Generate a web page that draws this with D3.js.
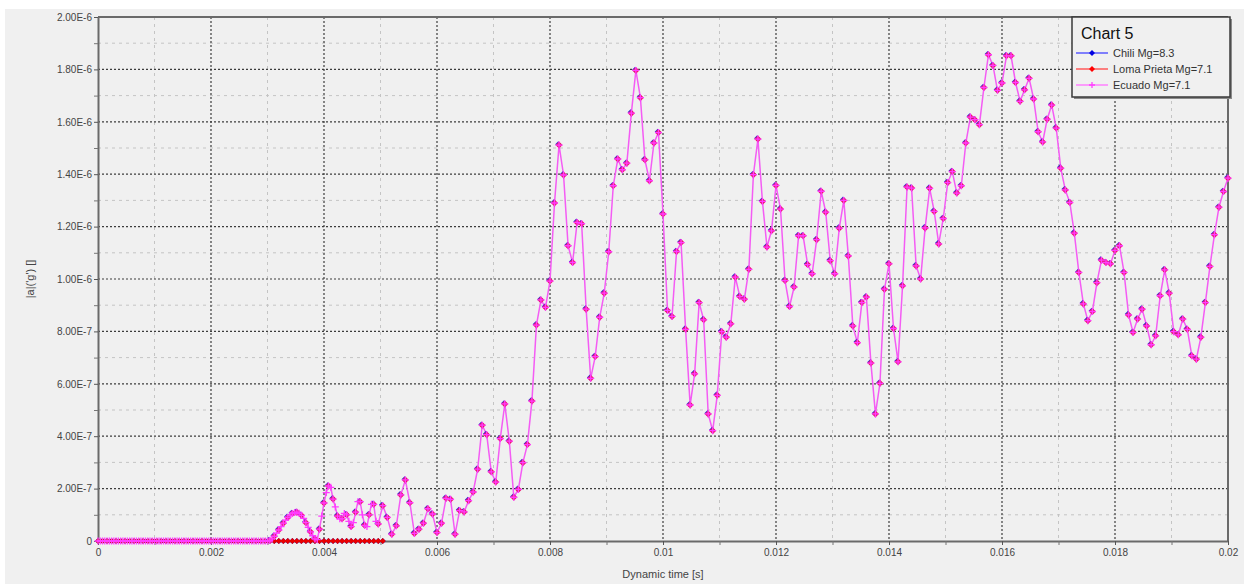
<!DOCTYPE html>
<html>
<head>
<meta charset="utf-8">
<script src="https://cdn.jsdelivr.net/npm/d3@7"></script>
<style>
  html, body { margin: 0; padding: 0; background: #ffffff; }
  svg { display: block; font-family: "Liberation Sans", Arial, sans-serif; }
</style>
</head>
<body>
<svg id="chart" width="1244" height="584"></svg>
<script>
// ---- Data -------------------------------------------------------------
// Amplitudes are given in units of 1e-7 g.
const seriesNames = ["Chili Mg=8.3", "Loma Prieta Mg=7.1", "Ecuado Mg=7.1"];

// Sampling: fine record up to 0.00496 s, coarse record from 0.00504 s on.
const fineStep = 0.00004;
const coarseStep = 0.00008;
const coarseFirstIndex = 63; // 63 * 0.00008 = 0.00504 s

// Chili and Loma Prieta: coarse samples 0 .. 0.00504 s
const chiliValues = [
  0,0,0,0,0,0,0,0,0,0,0,0,0,0,0,0,0,0,0,0,0,0,0,0,0,0,0,0,0,0,0,0,
  0,0,0,0,0,0,0,0,0,0,0,0,0,0,0,0,0,0,0,0,0,0,0,0,0,0,0,0,0,0,0,0
];
const lomaPrietaValues = [
  0,0,0,0,0,0,0,0,0,0,0,0,0,0,0,0,0,0,0,0,0,0,0,0,0,0,0,0,0,0,0,0,
  0,0,0,0,0,0,0,0,0,0,0,0,0,0,0,0,0,0,0,0,0,0,0,0,0,0,0,0,0,0,0,0
];

// Ecuado, fine part: 0 .. 0.00496 s
const ecuadoFineValues = [
  0,0,0,0,0,0,0,0,0,0,0,0,0,0,0,0,0,0,0,0,0,0,0,0,0,
  0,0,0,0,0,0,0,0,0,0,0,0,0,0,0,0,0,0,0,0,0,0,0,0,0,
  0,0,0,0,0,0,0,0,0,0,0,0,0,0,0,0,0,0,0,0,0,0,0,0,0,
  0,0.02,0.08,0.18,0.30,0.42,0.55,0.68,0.80,0.90,
  0.98,1.05,1.09,1.10,1.06,0.98,0.86,0.70,0.52,0.35,
  0.20,0.08,0.05,0.45,0.95,1.45,1.85,2.10,2.05,1.60,
  1.30,0.95,0.85,0.85,1.05,1.00,0.75,0.55,0.70,1.10,
  1.50,1.50,1.00,0.60,0.55,1.00,1.40,1.40,0.75,0.65
];

// Ecuado, coarse part: 0.00504 .. 0.02 s
const ecuadoCoarseValues = [
  1.35,0.90,0.26,0.58,1.76,2.33,1.46,0.29,0.45,0.68,1.23,1.03,0.32,0.68,
  1.63,1.59,0.26,1.16,1.11,1.54,1.87,2.74,4.42,4.06,2.64,2.25,3.91,5.23,
  3.81,1.67,1.97,2.99,3.68,5.34,8.24,9.20,8.92,9.92,12.90,15.11,13.97,11.27,
  10.63,12.16,12.11,8.85,6.21,7.04,8.54,9.46,11.04,13.56,14.58,14.17,14.42,16.33,
  17.96,16.92,14.55,13.75,15.19,15.59,12.48,8.80,8.57,11.05,11.39,8.08,5.19,6.38,
  9.10,8.44,4.85,4.21,5.56,7.99,7.78,8.29,10.07,9.33,9.23,10.37,
  13.98,15.34,12.96,11.22,11.84,13.57,12.67,9.94,8.95,9.69,11.65,11.65,10.55,10.20,
  11.50,13.35,12.55,10.70,10.20,11.94,13.00,10.88,8.21,7.57,9.10,9.31,6.79,4.85,
  6.02,9.61,10.58,8.11,6.84,9.74,13.51,13.47,10.50,10.00,11.95,13.46,
  12.58,11.34,12.31,13.68,14.10,13.28,13.56,15.19,16.18,16.08,15.89,17.31,18.56,18.15,
  17.20,17.48,18.52,18.52,17.50,16.78,17.22,17.66,16.87,15.62,15.23,16.10,16.64,15.76,
  14.23,13.40,12.92,11.75,10.25,9.05,8.41,8.76,9.86,10.72,10.63,
  10.58,11.09,11.27,10.25,8.63,7.96,8.47,8.85,8.21,7.49,7.83,9.36,10.35,9.46,
  7.99,7.87,8.47,8.08,7.07,6.94,7.78,9.10,10.48,11.69,12.74,13.34,13.85
];

// Axes
const xTicks = [0, 0.002, 0.004, 0.006, 0.008, 0.01, 0.012, 0.014, 0.016, 0.018, 0.02];
const xTickLabels = ["0", "0.002", "0.004", "0.006", "0.008", "0.01", "0.012", "0.014", "0.016", "0.018", "0.02"];
const xMinorTicks = [0.001, 0.003, 0.005, 0.007, 0.009, 0.011, 0.013, 0.015, 0.017, 0.019];
const yTicks = [0, 2e-7, 4e-7, 6e-7, 8e-7, 1e-6, 1.2e-6, 1.4e-6, 1.6e-6, 1.8e-6, 2e-6];
const yTickLabels = ["0", "2.00E-7", "4.00E-7", "6.00E-7", "8.00E-7", "1.00E-6", "1.20E-6", "1.40E-6", "1.60E-6", "1.80E-6", "2.00E-6"];
const yMinorTicks = [1e-7, 3e-7, 5e-7, 7e-7, 9e-7, 1.1e-6, 1.3e-6, 1.5e-6, 1.7e-6, 1.9e-6];
const chartTitle = "Chart 5";
const xTitle = "Dynamic time [s]";
const yTitle = "|a|('g') []";

// ---- Build series -------------------------------------------------------
const UNIT = 1e-7;
const chili = chiliValues.map((v, i) => ({ t: i * coarseStep, v: v * UNIT, coarse: true }));
const lomaPrieta = lomaPrietaValues.map((v, i) => ({ t: i * coarseStep, v: v * UNIT, coarse: true }));
const ecuado = ecuadoFineValues.map((v, i) => ({ t: i * fineStep, v: v * UNIT, coarse: i % 2 === 0 }))
  .concat(ecuadoCoarseValues.map((v, i) => ({ t: (coarseFirstIndex + i) * coarseStep, v: v * UNIT, coarse: true })));

// ---- Drawing ------------------------------------------------------------
const svg = d3.select("#chart");
const W = 1244, H = 584;
const plot = { left: 98, right: 1228, top: 17, bottom: 541 };

svg.append("rect").attr("x", 5).attr("y", 9).attr("width", W - 5).attr("height", H - 9).attr("fill", "#f0f0f0");

const x = d3.scaleLinear().domain([0, 0.02]).range([plot.left, plot.right]);
const y = d3.scaleLinear().domain([0, 2e-6]).range([plot.bottom, plot.top]);

// Grid
const grid = svg.append("g");
grid.selectAll("line.xminor").data(xMinorTicks).join("line")
  .attr("x1", d => x(d)).attr("x2", d => x(d)).attr("y1", plot.top).attr("y2", plot.bottom)
  .attr("stroke", "#c4c4c4").attr("stroke-width", 1).attr("stroke-dasharray", "3,4");
grid.selectAll("line.yminor").data(yMinorTicks).join("line")
  .attr("y1", d => y(d)).attr("y2", d => y(d)).attr("x1", plot.left).attr("x2", plot.right)
  .attr("stroke", "#c4c4c4").attr("stroke-width", 1).attr("stroke-dasharray", "3,4");
grid.selectAll("line.xmajor").data(xTicks.slice(1, -1)).join("line")
  .attr("x1", d => x(d)).attr("x2", d => x(d)).attr("y1", plot.top).attr("y2", plot.bottom)
  .attr("stroke", "#3c3c3c").attr("stroke-width", 1.2).attr("stroke-dasharray", "2,2");
grid.selectAll("line.ymajor").data(yTicks.slice(1, -1)).join("line")
  .attr("y1", d => y(d)).attr("y2", d => y(d)).attr("x1", plot.left).attr("x2", plot.right)
  .attr("stroke", "#3c3c3c").attr("stroke-width", 1.2).attr("stroke-dasharray", "2,2");

// Frame (top and right)
svg.append("line").attr("x1", plot.left).attr("x2", plot.right).attr("y1", plot.top).attr("y2", plot.top)
  .attr("stroke", "#6a6a6a").attr("stroke-width", 2);
svg.append("line").attr("x1", plot.right).attr("x2", plot.right).attr("y1", plot.top).attr("y2", plot.bottom)
  .attr("stroke", "#6a6a6a").attr("stroke-width", 2);

// Axes
function styleAxis(g) {
  g.select(".domain").attr("stroke", "#6a6a6a").attr("stroke-width", 2);
  g.selectAll(".tick line").attr("stroke", "#555");
  g.selectAll(".tick text").attr("fill", "#444").attr("font-size", "10px")
    .attr("font-family", "'Liberation Sans', Arial, sans-serif");
}
const gx = svg.append("g").attr("transform", `translate(0,${plot.bottom})`)
  .call(d3.axisBottom(x).tickValues(xTicks).tickFormat((d, i) => xTickLabels[i]).tickSize(4).tickPadding(4).tickSizeOuter(0));
styleAxis(gx);
svg.append("g").attr("transform", `translate(0,${plot.bottom})`)
  .call(d3.axisBottom(x).tickValues(xMinorTicks).tickFormat("").tickSize(4).tickSizeOuter(0))
  .call(g => { g.select(".domain").remove(); g.selectAll(".tick line").attr("stroke", "#777"); });

const gy = svg.append("g").attr("transform", `translate(${plot.left},0)`)
  .call(d3.axisLeft(y).tickValues(yTicks).tickFormat((d, i) => yTickLabels[i]).tickSize(4).tickPadding(2).tickSizeOuter(0));
styleAxis(gy);
svg.append("g").attr("transform", `translate(${plot.left},0)`)
  .call(d3.axisLeft(y).tickValues(yMinorTicks).tickFormat("").tickSize(4).tickSizeOuter(0))
  .call(g => { g.select(".domain").remove(); g.selectAll(".tick line").attr("stroke", "#777"); });

// Axis titles
svg.append("text").attr("x", (plot.left + plot.right) / 2).attr("y", 578)
  .attr("text-anchor", "middle").attr("font-size", "11px").attr("fill", "#444").text(xTitle);
svg.append("text").attr("transform", `translate(34,${(plot.top + plot.bottom) / 2}) rotate(-90)`)
  .attr("text-anchor", "middle").attr("font-size", "11px").attr("fill", "#444").text(yTitle);

// Marker shapes
const diamond = r => `M0,${-r}L${r},0L0,${r}L${-r},0Z`;
const plus = r => `M${-r},0H${r}M0,${-r}V${r}`;

const line = d3.line().x(d => x(d.t)).y(d => y(d.v));

// Chili
svg.append("path").datum(chili).attr("d", line).attr("fill", "none").attr("stroke", "#5050ff").attr("stroke-width", 1.5);
svg.append("g").selectAll("path").data(chili).join("path")
  .attr("transform", d => `translate(${x(d.t)},${y(d.v)})`).attr("d", diamond(3)).attr("fill", "#1010d0");

// Loma Prieta
svg.append("path").datum(lomaPrieta).attr("d", line).attr("fill", "none").attr("stroke", "#ff3030").attr("stroke-width", 1.5);
svg.append("g").selectAll("path").data(lomaPrieta).join("path")
  .attr("transform", d => `translate(${x(d.t)},${y(d.v)})`).attr("d", diamond(3)).attr("fill", "#e80000");

// Ecuado
svg.append("path").datum(ecuado).attr("d", line).attr("fill", "none").attr("stroke", "#f45cf4").attr("stroke-width", 1.5);
const coarsePts = ecuado.filter(d => d.coarse && d.v > 0);
svg.append("g").selectAll("path").data(coarsePts).join("path")
  .attr("transform", d => `translate(${x(d.t) - 0.8},${y(d.v) - 0.8})`).attr("d", diamond(3)).attr("fill", "#3a2ad0");
svg.append("g").selectAll("path").data(coarsePts).join("path")
  .attr("transform", d => `translate(${x(d.t)},${y(d.v)})`).attr("d", diamond(3.5)).attr("fill", "#f0146e");
svg.append("g").selectAll("path").data(ecuado).join("path")
  .attr("transform", d => `translate(${x(d.t)},${y(d.v)})`).attr("d", plus(3.5))
  .attr("fill", "none").attr("stroke", "#ff3cff").attr("stroke-width", 1.3);

// Legend
const lg = svg.append("g");
lg.append("rect").attr("x", 1074).attr("y", 19).attr("width", 158).attr("height", 80).attr("fill", "#8a8a8a");
lg.append("rect").attr("x", 1072).attr("y", 17).attr("width", 158).attr("height", 80)
  .attr("fill", "#f0f0f0").attr("stroke", "#3a3a3a").attr("stroke-width", 1.5);
lg.append("text").attr("x", 1081).attr("y", 39).attr("font-size", "16px").attr("fill", "#111").text(chartTitle);
const legendStyles = [
  { line: "#5a5aff", mark: "#0000e0", shape: "diamond" },
  { line: "#ff5a5a", mark: "#ff0000", shape: "diamond" },
  { line: "#ff80ff", mark: "#ff40ff", shape: "plus" }
];
seriesNames.forEach((name, i) => {
  const ly = 53 + i * 16;
  const s = legendStyles[i];
  lg.append("line").attr("x1", 1076).attr("x2", 1108).attr("y1", ly).attr("y2", ly)
    .attr("stroke", s.line).attr("stroke-width", 1.5);
  if (s.shape === "diamond") {
    lg.append("path").attr("transform", `translate(1092,${ly})`).attr("d", diamond(3)).attr("fill", s.mark);
  } else {
    lg.append("path").attr("transform", `translate(1092,${ly})`).attr("d", plus(3))
      .attr("stroke", s.mark).attr("stroke-width", 1.3).attr("fill", "none");
  }
  lg.append("text").attr("x", 1113).attr("y", ly).attr("dy", "0.35em")
    .attr("font-size", "11px").attr("fill", "#333").text(name);
});
</script>
</body>
</html>
